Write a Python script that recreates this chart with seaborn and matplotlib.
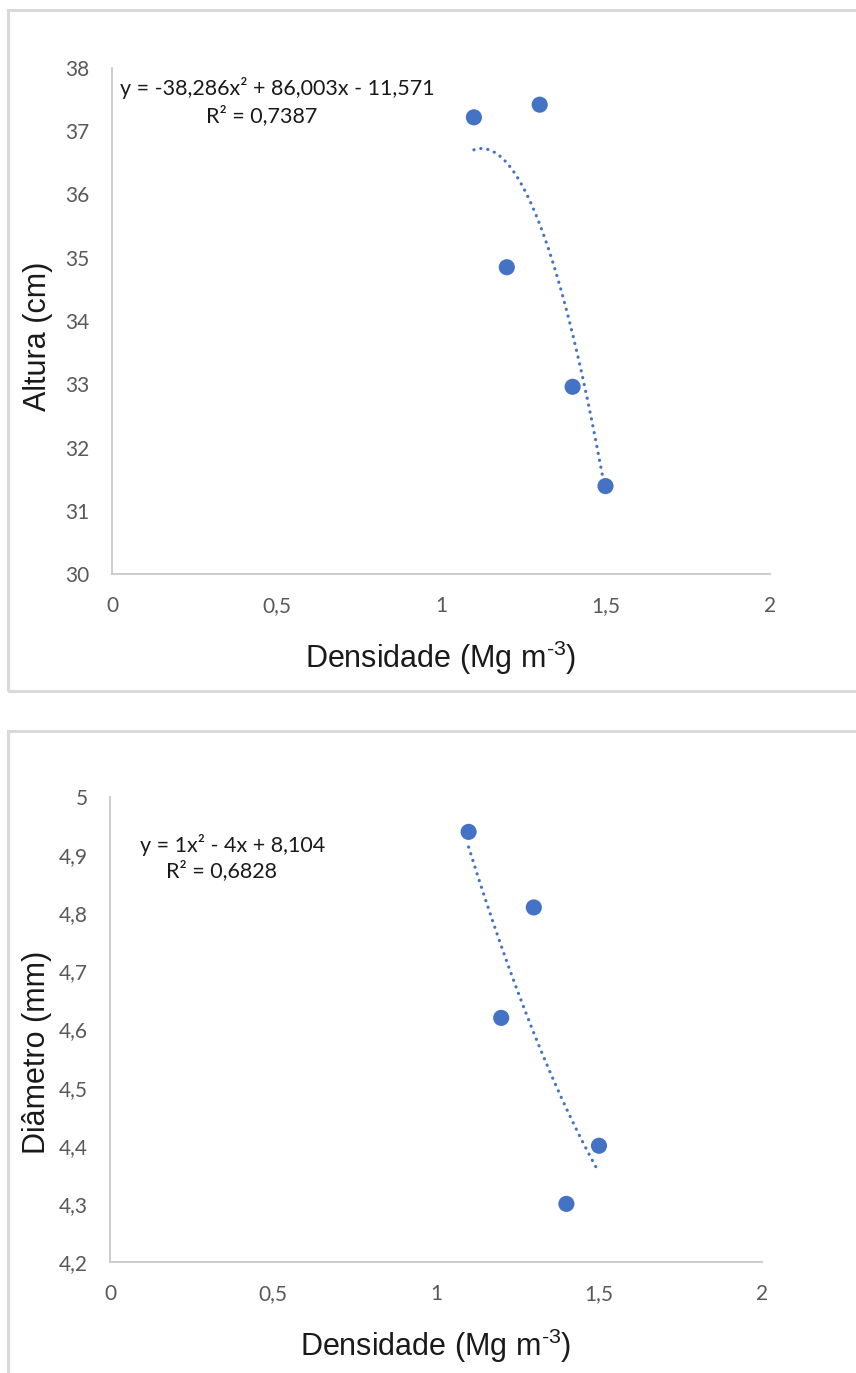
import numpy as np
import pandas as pd
import seaborn as sns
import matplotlib.pyplot as plt
from matplotlib.patches import Rectangle
from matplotlib.ticker import FixedLocator, FixedFormatter

# ---- data ----
densidade = [1.1, 1.2, 1.3, 1.4, 1.5]
altura = [37.22, 34.85, 37.42, 32.96, 31.39]
diametro = [4.94, 4.62, 4.81, 4.30, 4.40]

coef_altura = [-38.286, 86.003, -11.571]
coef_diametro = [1.0, -4.0, 8.104]

eq_altura = "y = -38,286x² + 86,003x - 11,571"
r2_altura = "R² = 0,7387"
eq_diametro = "y = 1x² - 4x + 8,104"
r2_diametro = "R² = 0,6828"

x_ticks = [0, 0.5, 1, 1.5, 2]
x_ticklabels = ["0", "0,5", "1", "1,5", "2"]
y_ticks_alt = [30, 31, 32, 33, 34, 35, 36, 37, 38]
y_ticklabels_alt = ["30", "31", "32", "33", "34", "35", "36", "37", "38"]
y_ticks_dia = [4.2, 4.3, 4.4, 4.5, 4.6, 4.7, 4.8, 4.9, 5.0]
y_ticklabels_dia = ["4,2", "4,3", "4,4", "4,5", "4,6", "4,7", "4,8", "4,9", "5"]

xlabel = r"Densidade (Mg m$^{\text{-3}}$)"
ylabel_alt = "Altura (cm)"
ylabel_dia = "Diâmetro (mm)"

# ---- style ----
sns.set_style("white")
plt.rcParams["font.family"] = ["Lato", "DejaVu Sans"]
plt.rcParams["mathtext.fontset"] = "custom"
plt.rcParams["mathtext.rm"] = "Liberation Sans"
plt.rcParams["mathtext.it"] = "Liberation Sans"
plt.rcParams["mathtext.bf"] = "Liberation Sans"

W, H = 856, 1373
fig = plt.figure(figsize=(W / 100, H / 100), dpi=100)

BLUE = "#4472C4"
SPINE = "#c9c9c9"
TICKC = "#595959"


def px_axes(left, right, top, bottom):
    return fig.add_axes([left / W, 1 - bottom / H, (right - left) / W, (bottom - top) / H])


# panel borders
fig.patches.append(Rectangle((8 / W, 1 - 691 / H), 900 / W, (691 - 10) / H,
                             transform=fig.transFigure, fill=False,
                             edgecolor="#d9d9d9", linewidth=2.2))
fig.patches.append(Rectangle((8 / W, 1 - 1400 / H), 900 / W, (1400 - 731) / H,
                             transform=fig.transFigure, fill=False,
                             edgecolor="#d9d9d9", linewidth=2.2))


def draw(ax, y, coef, yticks, yticklabels, ylim, ylabel, eq, r2, eqpos, r2pos, ylab_xy):
    df = pd.DataFrame({"x": densidade, "y": y})
    xs = np.linspace(min(densidade), max(densidade), 200)
    trend = pd.DataFrame({"x": xs, "y": np.polyval(coef, xs)})
    sns.lineplot(data=trend, x="x", y="y", ax=ax, color=BLUE,
                 linewidth=2.3, linestyle=(0, (0.05, 2.15)),
                 dash_capstyle="round", solid_capstyle="round", zorder=2)
    sns.scatterplot(data=df, x="x", y="y", ax=ax, color=BLUE, s=135,
                    edgecolor="none", zorder=3)
    ax.set_xlim(0, 2)
    ax.set_ylim(*ylim)
    ax.xaxis.set_major_locator(FixedLocator(x_ticks))
    ax.xaxis.set_major_formatter(FixedFormatter(x_ticklabels))
    ax.yaxis.set_major_locator(FixedLocator(yticks))
    ax.yaxis.set_major_formatter(FixedFormatter(yticklabels))
    ax.tick_params(axis="both", length=0, labelsize=15, labelcolor=TICKC)
    ax.tick_params(axis="x", pad=16)
    ax.tick_params(axis="y", pad=16)
    for s in ["top", "right"]:
        ax.spines[s].set_visible(False)
    for s in ["left", "bottom"]:
        ax.spines[s].set_color(SPINE)
        ax.spines[s].set_linewidth(1.3)
    ax.set_xlabel(xlabel, fontsize=22, family="Liberation Sans", color="#1a1a1a", labelpad=16)
    ax.set_ylabel(ylabel, fontsize=22, family="Liberation Sans", color="#1a1a1a")
    ax.yaxis.set_label_coords(*ylab_xy)
    ax.text(eqpos[0], eqpos[1], eq, transform=ax.transAxes, fontsize=15.5,
            color="#1a1a1a", ha="left", va="center")
    ax.text(r2pos[0], r2pos[1], r2, transform=ax.transAxes, fontsize=15.5,
            color="#1a1a1a", ha="center", va="center")


ax1 = px_axes(112, 770, 68, 574)
draw(ax1, altura, coef_altura, y_ticks_alt, y_ticklabels_alt, (30, 38), ylabel_alt,
     eq_altura, r2_altura,
     ((120 - 112) / 658, 1 - (88 - 68) / 506), ((262 - 112) / 658, 1 - (116 - 68) / 506),
     ((53 - 112) / 658, 1 - (336 - 68) / 506))

ax2 = px_axes(110, 762, 797, 1262)
draw(ax2, diametro, coef_diametro, y_ticks_dia, y_ticklabels_dia, (4.2, 5.0), ylabel_dia,
     eq_diametro, r2_diametro,
     ((140 - 110) / 652, 1 - (845 - 797) / 465), ((222 - 110) / 652, 1 - (871 - 797) / 465),
     ((52 - 110) / 652, 1 - (1052 - 797) / 465))

fig.savefig("out.png", dpi=100, facecolor="white")
